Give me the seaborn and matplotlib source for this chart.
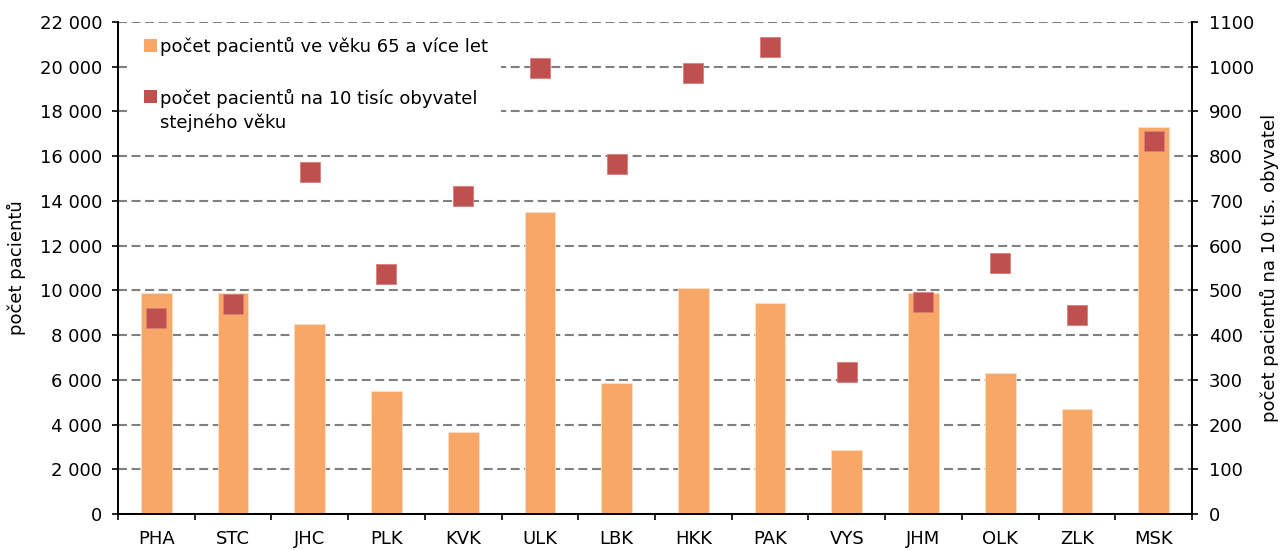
import matplotlib
matplotlib.use("Agg")
import matplotlib.pyplot as plt
from matplotlib.patches import Patch
from matplotlib.legend_handler import HandlerPatch
from matplotlib.ticker import FuncFormatter, MultipleLocator, FixedLocator
import seaborn as sns
import pandas as pd

# Regions (kraje) and values
regions = ["PHA", "STC", "JHC", "PLK", "KVK", "ULK", "LBK",
           "HKK", "PAK", "VYS", "JHM", "OLK", "ZLK", "MSK"]
patients_65 = [9900, 9900, 8500, 5500, 3650, 13500, 5850,
               10100, 9450, 2850, 9900, 6300, 4700, 17300]
per_10k = [439, 469, 765, 537, 711, 997, 783,
           986, 1044, 317, 475, 561, 444, 834]

label_bars = "počet pacientů ve věku 65 a více let"
label_rate = "počet pacientů na 10 tisíc obyvatel\nstejného věku"

BAR_COLOR = "#F7A866"
MARK_COLOR = "#C0504D"
FS = 13

df = pd.DataFrame({"kraj": regions, "pacienti": patients_65, "na10tis": per_10k})

sns.set_theme(style="white")
plt.rcParams["font.family"] = ["DejaVu Sans"]
plt.rcParams.update({"text.color": "black", "axes.labelcolor": "black",
                     "xtick.color": "black", "ytick.color": "black"})

fig = plt.figure(figsize=(12.85, 5.5), dpi=100)
ax = fig.add_axes([0.0918, 0.0655, 0.8358, 0.8945])

sns.barplot(data=df, x="kraj", y="pacienti", color=BAR_COLOR, width=0.4,
            saturation=1, edgecolor="#FCE0C8", linewidth=0.6, ax=ax, zorder=2)
ax.set_ylim(0, 22000)
ax.set_xlim(-0.5, len(regions) - 0.5)
ax.yaxis.set_major_locator(MultipleLocator(2000))
ax.yaxis.set_major_formatter(FuncFormatter(lambda v, p: f"{v:,.0f}".replace(",", " ")))
ax.grid(axis="y", color="#808080", linestyle=(0, (4.3, 2.2)), linewidth=1.5, zorder=1)
ax.set_axisbelow(True)
ax.set_xlabel("")
ax.set_ylabel("počet pacientů", fontsize=FS)
ax.yaxis.set_label_coords(-0.0857, 0.5)

ax2 = ax.twinx()
sns.scatterplot(data=df, x="kraj", y="na10tis", marker="s", s=188,
                color=MARK_COLOR, edgecolor="#D9807D", linewidth=0.6,
                ax=ax2, zorder=4, legend=False)
ax2.set_ylim(0, 1100)
ax2.yaxis.set_major_locator(MultipleLocator(100))
ax2.set_ylabel("počet pacientů na 10 tis. obyvatel", fontsize=FS)
ax2.yaxis.set_label_coords(1.063, 0.5)
ax2.set_xlim(-0.5, len(regions) - 0.5)
ax2.grid(False)

for a in (ax, ax2):
    for side in ("left", "right", "bottom"):
        a.spines[side].set_visible(True)
        a.spines[side].set_color("black")
        a.spines[side].set_linewidth(1.3)
    a.spines["top"].set_visible(False)

ax.tick_params(axis="y", which="major", direction="out", length=4.3, width=1.2,
               labelsize=FS, left=True, pad=7)
ax2.tick_params(axis="y", which="major", direction="out", length=4.3, width=1.2,
                labelsize=FS, right=True, pad=8)
ax.tick_params(axis="x", which="major", length=0, labelsize=FS, pad=11.5)
ax.xaxis.set_minor_locator(FixedLocator([i - 0.5 for i in range(len(regions) + 1)]))
ax.tick_params(axis="x", which="minor", direction="out", length=4, width=1.2,
               bottom=True)


class AlignedSquare(HandlerPatch):
    """Square handle raised to sit beside the first line of a label."""

    def __init__(self, dy=0.0, **kw):
        super().__init__(**kw)
        self.dy = dy

    def create_artists(self, legend, orig_handle, xdescent, ydescent,
                       width, height, fontsize, trans):
        arts = super().create_artists(legend, orig_handle, xdescent, ydescent,
                                      width, height, fontsize, trans)
        for a in arts:
            a.set_y(a.get_y() + self.dy)
        return arts


h_bar = Patch(facecolor=BAR_COLOR, edgecolor="none")
h_rate = Patch(facecolor=MARK_COLOR, edgecolor="none")
leg = ax2.legend([h_bar, h_rate], [label_bars, label_rate],
                 handler_map={h_bar: AlignedSquare(0.0), h_rate: AlignedSquare(10.5)},
                 loc="upper left", bbox_to_anchor=(0.012, 0.997), frameon=True,
                 facecolor="white", edgecolor="none", framealpha=1.0, fancybox=False,
                 fontsize=FS, handlelength=0.72, handleheight=0.72, handletextpad=0.12,
                 labelspacing=1.8, borderpad=0.75, borderaxespad=0.0)
for t in leg.get_texts():
    t.set_linespacing(1.4)
leg.set_zorder(10)

fig.savefig("out.png", dpi=100)
